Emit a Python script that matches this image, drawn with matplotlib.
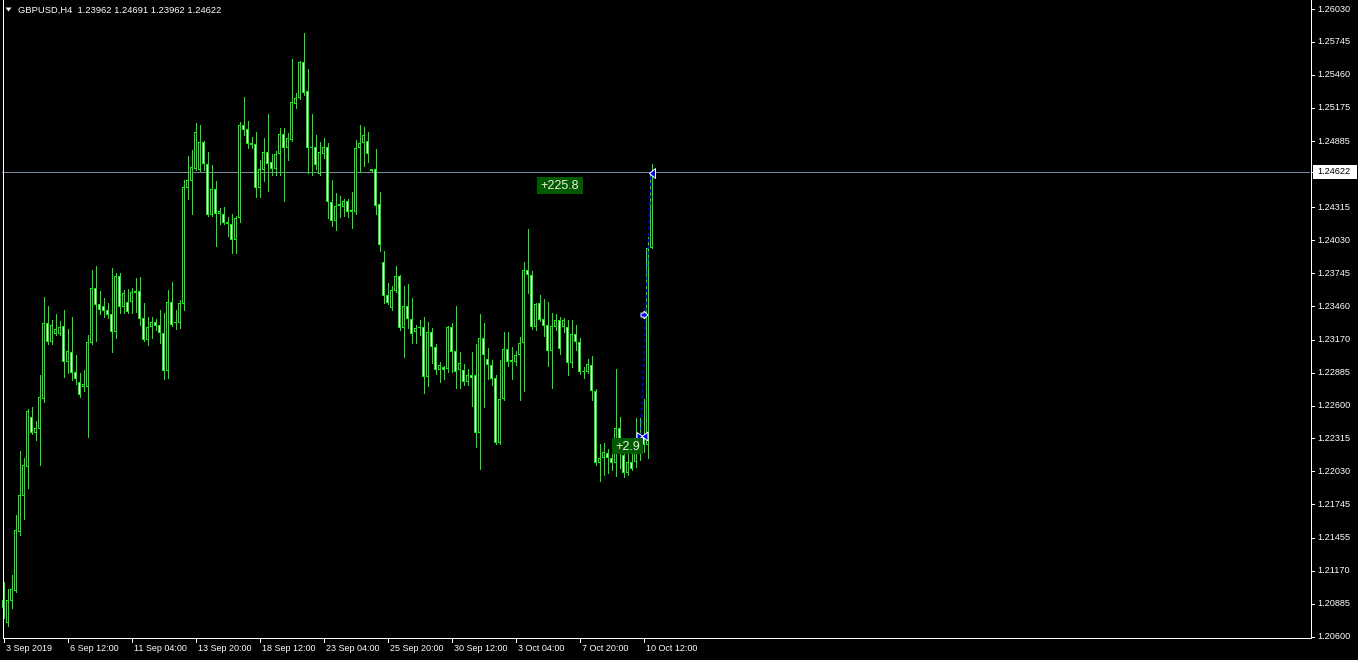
import matplotlib
matplotlib.use("Agg")
import matplotlib.pyplot as plt
from matplotlib.patches import Rectangle, Polygon
from matplotlib.collections import LineCollection

# ---------------- data (GBPUSD H4) ----------------
opens = [1.2092, 1.2072, 1.2091, 1.2100, 1.2151, 1.2182, 1.2207, 1.2250, 1.2236, 1.2240,
         1.2266, 1.2331, 1.2315, 1.2322, 1.2322, 1.2329, 1.2298, 1.2306, 1.2289, 1.2280,
         1.2276, 1.2276, 1.2314, 1.2362, 1.2348, 1.2346, 1.2343, 1.2339, 1.2324, 1.2372,
         1.2345, 1.2350, 1.2350, 1.2357, 1.2359, 1.2336, 1.2317, 1.2328, 1.2332, 1.2330,
         1.2323, 1.2290, 1.2350, 1.2331, 1.2331, 1.2348, 1.2448, 1.2454, 1.2465, 1.2464,
         1.2488, 1.2469, 1.2425, 1.2447, 1.2426, 1.2426, 1.2419, 1.2417, 1.2403, 1.2422,
         1.2503, 1.2499, 1.2487, 1.2486, 1.2448, 1.2464, 1.2479, 1.2471, 1.2465, 1.2478,
         1.2495, 1.2483, 1.2490, 1.2521, 1.2526, 1.2557, 1.2532, 1.2484, 1.2484, 1.2460,
         1.2478, 1.2484, 1.2436, 1.2420, 1.2434, 1.2432, 1.2437, 1.2429, 1.2427, 1.2483,
         1.2487, 1.2489, 1.2465, 1.2465, 1.2434, 1.2384, 1.2356, 1.2344, 1.2359, 1.2372,
         1.2327, 1.2346, 1.2335, 1.2324, 1.2327, 1.2328, 1.2285, 1.2324, 1.2311, 1.2291,
         1.2293, 1.2292, 1.2328, 1.2307, 1.2291, 1.2291, 1.2280, 1.2286, 1.2286, 1.2236,
         1.2318, 1.2300, 1.2295, 1.2284, 1.2228, 1.2266, 1.2309, 1.2299, 1.2298, 1.2304,
         1.2314, 1.2377, 1.2373, 1.2328, 1.2349, 1.2335, 1.2330, 1.2307, 1.2328, 1.2334,
         1.2328, 1.2328, 1.2297, 1.2322, 1.2315, 1.2290, 1.2289, 1.2295, 1.2273, 1.2210,
         1.2215, 1.2219, 1.2215, 1.2210, 1.2241, 1.2217, 1.2202, 1.2211, 1.2211, 1.2219,
         1.2233, 1.2226, 1.23962]
highs = [1.2107, 1.2101, 1.2113, 1.2165, 1.2221, 1.2215, 1.2257, 1.2259, 1.2247, 1.2286,
         1.2354, 1.2346, 1.2334, 1.2339, 1.2333, 1.2343, 1.2326, 1.2337, 1.2304, 1.2288,
         1.2291, 1.2321, 1.2377, 1.2381, 1.2359, 1.2353, 1.2349, 1.2379, 1.2375, 1.2375,
         1.2360, 1.2361, 1.2362, 1.2370, 1.2371, 1.2349, 1.2337, 1.2337, 1.2335, 1.2343,
         1.2340, 1.2360, 1.2367, 1.2343, 1.2351, 1.2455, 1.2476, 1.2481, 1.2504, 1.2503,
         1.2489, 1.2479, 1.2468, 1.2454, 1.2431, 1.2432, 1.2423, 1.2426, 1.2424, 1.2505,
         1.2527, 1.2506, 1.2492, 1.2497, 1.2472, 1.2491, 1.2512, 1.2478, 1.2480, 1.2500,
         1.2500, 1.2496, 1.2560, 1.2530, 1.2558, 1.2582, 1.2551, 1.2512, 1.2494, 1.2488,
         1.2491, 1.2487, 1.2455, 1.2444, 1.2441, 1.2439, 1.2439, 1.2445, 1.2490, 1.2503,
         1.2501, 1.2497, 1.2465, 1.2482, 1.2445, 1.2394, 1.2366, 1.2363, 1.2381, 1.2373,
         1.2363, 1.2365, 1.2353, 1.2330, 1.2334, 1.2337, 1.2332, 1.2327, 1.2313, 1.2298,
         1.2294, 1.2329, 1.2331, 1.2346, 1.2306, 1.2296, 1.2292, 1.2306, 1.2313, 1.2339,
         1.2331, 1.2310, 1.2299, 1.2286, 1.2299, 1.2324, 1.2324, 1.2311, 1.2307, 1.2319,
         1.2384, 1.2413, 1.2376, 1.2349, 1.2356, 1.2352, 1.2350, 1.2340, 1.2339, 1.2337,
         1.2336, 1.2334, 1.2334, 1.2330, 1.2318, 1.2293, 1.2300, 1.2303, 1.2274, 1.2227,
         1.2228, 1.2222, 1.2222, 1.2292, 1.2250, 1.2221, 1.2219, 1.2225, 1.2249, 1.2249,
         1.2266, 1.2406, 1.24691]
lows = [1.2076, 1.2069, 1.2085, 1.2099, 1.2148, 1.2162, 1.2189, 1.2235, 1.2230, 1.2209,
        1.2263, 1.2313, 1.2313, 1.2321, 1.2321, 1.2285, 1.2288, 1.2282, 1.2279, 1.2267,
        1.2273, 1.2233, 1.2313, 1.2316, 1.2339, 1.2337, 1.2336, 1.2306, 1.2318, 1.2340,
        1.2340, 1.2340, 1.2340, 1.2341, 1.2330, 1.2316, 1.2312, 1.2318, 1.2325, 1.2314,
        1.2283, 1.2284, 1.2329, 1.2326, 1.2327, 1.2343, 1.2439, 1.2426, 1.2464, 1.2463,
        1.2464, 1.2424, 1.2424, 1.2398, 1.2417, 1.2417, 1.2407, 1.2392, 1.2392, 1.2419,
        1.2494, 1.2483, 1.2483, 1.2440, 1.2440, 1.2454, 1.2446, 1.2459, 1.2459, 1.2459,
        1.2437, 1.2472, 1.2489, 1.2517, 1.2525, 1.2529, 1.2461, 1.2459, 1.2465, 1.2459,
        1.2474, 1.2422, 1.2415, 1.2412, 1.2423, 1.2424, 1.2423, 1.2414, 1.2426, 1.2462,
        1.2467, 1.2471, 1.2463, 1.2426, 1.2394, 1.2349, 1.2348, 1.2343, 1.2358, 1.2325,
        1.2302, 1.2327, 1.2314, 1.2314, 1.2321, 1.2271, 1.2277, 1.2297, 1.2287, 1.2280,
        1.2283, 1.2289, 1.2289, 1.2275, 1.2275, 1.2278, 1.2278, 1.2260, 1.2224, 1.2205,
        1.2259, 1.2283, 1.2278, 1.2227, 1.2227, 1.2265, 1.2294, 1.2283, 1.2295, 1.2265,
        1.2273, 1.2357, 1.2326, 1.2325, 1.2333, 1.2320, 1.2294, 1.2275, 1.2325, 1.2305,
        1.2324, 1.2286, 1.2293, 1.2308, 1.2287, 1.2284, 1.2288, 1.2265, 1.2209, 1.2195,
        1.2200, 1.2202, 1.2204, 1.2199, 1.2206, 1.2198, 1.2200, 1.2204, 1.2207, 1.2213,
        1.2220, 1.2215, 1.23962]
closes = [1.2085, 1.2092, 1.2101, 1.2152, 1.2183, 1.2209, 1.2255, 1.2236, 1.2241, 1.2267,
          1.2331, 1.2315, 1.2330, 1.2326, 1.2328, 1.2298, 1.2307, 1.2288, 1.2283, 1.2269,
          1.2279, 1.2315, 1.2362, 1.2347, 1.2343, 1.2342, 1.2338, 1.2324, 1.2372, 1.2345,
          1.2357, 1.2341, 1.2358, 1.2359, 1.2335, 1.2317, 1.2328, 1.2332, 1.2329, 1.2323,
          1.2290, 1.2350, 1.2330, 1.2332, 1.2349, 1.2449, 1.2455, 1.2466, 1.2497, 1.2488,
          1.2469, 1.2425, 1.2447, 1.2426, 1.2428, 1.2418, 1.2417, 1.2403, 1.2422, 1.2503,
          1.2498, 1.2486, 1.2485, 1.2448, 1.2465, 1.2479, 1.2469, 1.2465, 1.2478, 1.2495,
          1.2483, 1.2491, 1.2523, 1.2526, 1.2557, 1.2530, 1.2483, 1.2483, 1.2468, 1.2479,
          1.2484, 1.2436, 1.2420, 1.2433, 1.2433, 1.2437, 1.2427, 1.2427, 1.2483, 1.2487,
          1.2494, 1.2478, 1.2463, 1.2433, 1.2399, 1.2355, 1.2349, 1.2360, 1.2372, 1.2327,
          1.2346, 1.2335, 1.2322, 1.2327, 1.2328, 1.2285, 1.2324, 1.2311, 1.2291, 1.2295,
          1.2291, 1.2328, 1.2306, 1.2289, 1.2297, 1.2280, 1.2286, 1.2284, 1.2236, 1.2318,
          1.2304, 1.2295, 1.2283, 1.2228, 1.2266, 1.2309, 1.2298, 1.2298, 1.2304, 1.2314,
          1.2377, 1.2373, 1.2328, 1.2348, 1.2334, 1.2329, 1.2307, 1.2329, 1.2334, 1.2309,
          1.2334, 1.2297, 1.2322, 1.2315, 1.2289, 1.2289, 1.2296, 1.2273, 1.2210, 1.2215,
          1.2220, 1.2215, 1.2210, 1.2241, 1.2226, 1.2202, 1.2211, 1.2205, 1.2219, 1.2233,
          1.2226, 1.23962, 1.24622]

price_ticks = [1.26030, 1.25745, 1.25460, 1.25175, 1.24885, 1.24315, 1.24030, 1.23745,
               1.23460, 1.23170, 1.22885, 1.22600, 1.22315, 1.22030, 1.21745, 1.21455,
               1.21170, 1.20885, 1.20600]
date_labels = ["3 Sep 2019", "6 Sep 12:00", "11 Sep 04:00", "13 Sep 20:00", "18 Sep 12:00",
               "23 Sep 04:00", "25 Sep 20:00", "30 Sep 12:00", "3 Oct 04:00", "7 Oct 20:00",
               "10 Oct 12:00"]
date_label_bars = [0, 16, 32, 48, 64, 80, 96, 112, 128, 144, 160]
bid_price = 1.24622
header = "GBPUSD,H4  1.23962 1.24691 1.23962 1.24622"
profit_labels = ["+225.8", "+2.9"]

# ---------------- figure ----------------
W, H = 1358, 660
FONT = "Liberation Sans"
fig = plt.figure(figsize=(W / 100, H / 100), dpi=100, facecolor="black")

Y_TOP_PRICE = 1.26108      # price at pixel row 0
PX_PER_PRICE = 1 / 0.0000865
AX_LEFT, AX_RIGHT, AX_BOTTOM = 2, 1310, 637

ax = fig.add_axes([AX_LEFT / W, (H - AX_BOTTOM) / H, (AX_RIGHT - AX_LEFT) / W, AX_BOTTOM / H])
ax.set_facecolor("black")
ax.set_xlim((AX_LEFT - 3.5) / 4, (AX_RIGHT - 3.5) / 4)
ax.set_ylim(Y_TOP_PRICE - AX_BOTTOM / PX_PER_PRICE, Y_TOP_PRICE)
ax.axis("off")

LIME = "#00ff00"
px = 0.72           # one pixel in points
dpx = 1 / PX_PER_PRICE   # one pixel in price units

# wicks
segs = [[(i, lows[i]), (i, highs[i])] for i in range(len(opens))]
ax.add_collection(LineCollection(segs, colors=LIME, linewidths=px, antialiaseds=False, zorder=2))

# bodies: 3px lime block, with 1px inner column black (bull) or white (bear)
for i, (o, c) in enumerate(zip(opens, closes)):
    lo, hi = min(o, c), max(o, c)
    h = max(hi - lo, dpx)
    ax.add_patch(Rectangle((i - 0.375, lo), 0.75, h, facecolor=LIME, edgecolor="none",
                           antialiased=False, zorder=3))
    if h > 2.2 * dpx:
        face = "black" if c >= o else "white"
        ax.add_patch(Rectangle((i - 0.125, lo + dpx), 0.25, h - 2 * dpx, facecolor=face,
                               edgecolor="none", antialiased=False, zorder=4))

# bid line
ax.axhline(bid_price, color="#778899", lw=px, zorder=1)

# ---------------- overlay in pixel coords ----------------
ov = fig.add_axes([0, 0, 1, 1], zorder=5)
ov.set_xlim(0, W)
ov.set_ylim(H, 0)
ov.axis("off")
ov.patch.set_alpha(0)

def ypix(p):
    return (Y_TOP_PRICE - p) * PX_PER_PRICE

# frame
ov.plot([2.5, 2.5], [0, AX_BOTTOM + 0.5], color="white", lw=px)
ov.plot([2.5, AX_RIGHT + 0.5], [AX_BOTTOM + 0.5, AX_BOTTOM + 0.5], color="white", lw=px)
ov.plot([AX_RIGHT + 0.5, AX_RIGHT + 0.5], [0, AX_BOTTOM + 0.5], color="white", lw=px)

# price ticks / labels
for p in price_ticks:
    y = ypix(p)
    ov.plot([AX_RIGHT + 0.5, AX_RIGHT + 4], [y, y], color="white", lw=px)
    ov.text(AX_RIGHT + 7, y, f"{p:.5f}", color="white", fontsize=6.6, family=FONT,
            ha="left", va="center")

# bid price box
yb = ypix(bid_price)
ov.plot([AX_RIGHT + 0.5, AX_RIGHT + 4], [yb, yb], color="white", lw=px)
ov.add_patch(Rectangle((AX_RIGHT + 3, yb - 7), 44, 14, facecolor="white", edgecolor="none"))
ov.text(AX_RIGHT + 7, yb, f"{bid_price:.5f}", color="black", fontsize=6.6, family=FONT,
        ha="left", va="center")

# date ticks / labels
for lab, b in zip(date_labels, date_label_bars):
    x = 3.5 + 4 * b
    ov.plot([x, x], [AX_BOTTOM + 0.5, AX_BOTTOM + 5], color="white", lw=px)
    ov.text(x + 2, 648.5, lab, color="white", fontsize=6.5, family=FONT, ha="left", va="center")

# header
ov.add_patch(Polygon([[5.5, 7.5], [11.5, 7.5], [8.5, 11.5]], closed=True, facecolor="white",
                     edgecolor="none"))
ov.text(18, 10, header, color="white", fontsize=6.75, family=FONT, ha="left", va="center")

# trade line and markers
ov.plot([641, 651], [436, 174], color="#0000ff", lw=1.0, ls=(0, (2.5, 2)), zorder=6)
ov.add_patch(Polygon([[649.5, 173.5], [655.5, 168.5], [655.5, 178.5]], closed=True,
                     facecolor="#0000ff", edgecolor="white", lw=px, zorder=7))
ov.add_patch(Polygon([[641, 313], [644, 313], [644, 311], [648, 315], [644, 319], [644, 317],
                      [641, 317]], closed=True, facecolor="#0000ff", edgecolor="white", lw=px, zorder=7))
ov.add_patch(Polygon([[637, 432.5], [643, 436.5], [637, 440.5]], closed=True,
                     facecolor="#0000ff", edgecolor="white", lw=px, zorder=7))
ov.add_patch(Polygon([[642, 436.5], [648, 432], [648, 441]], closed=True,
                     facecolor="#0000ff", edgecolor="white", lw=px, zorder=7))

# profit labels
for lab, (x0, y0, w, h) in zip(profit_labels, [(537, 177, 46, 17), (612, 438, 31, 16)]):
    ov.add_patch(Rectangle((x0, y0), w, h, facecolor="#005a00", edgecolor="none", zorder=8))
    ov.text(x0 + w / 2, y0 + h / 2 + 0.5, lab, color="#f0f0e0", fontsize=9, family=FONT,
            ha="center", va="center", zorder=9)

fig.savefig("out.png", dpi=100, facecolor="black")
